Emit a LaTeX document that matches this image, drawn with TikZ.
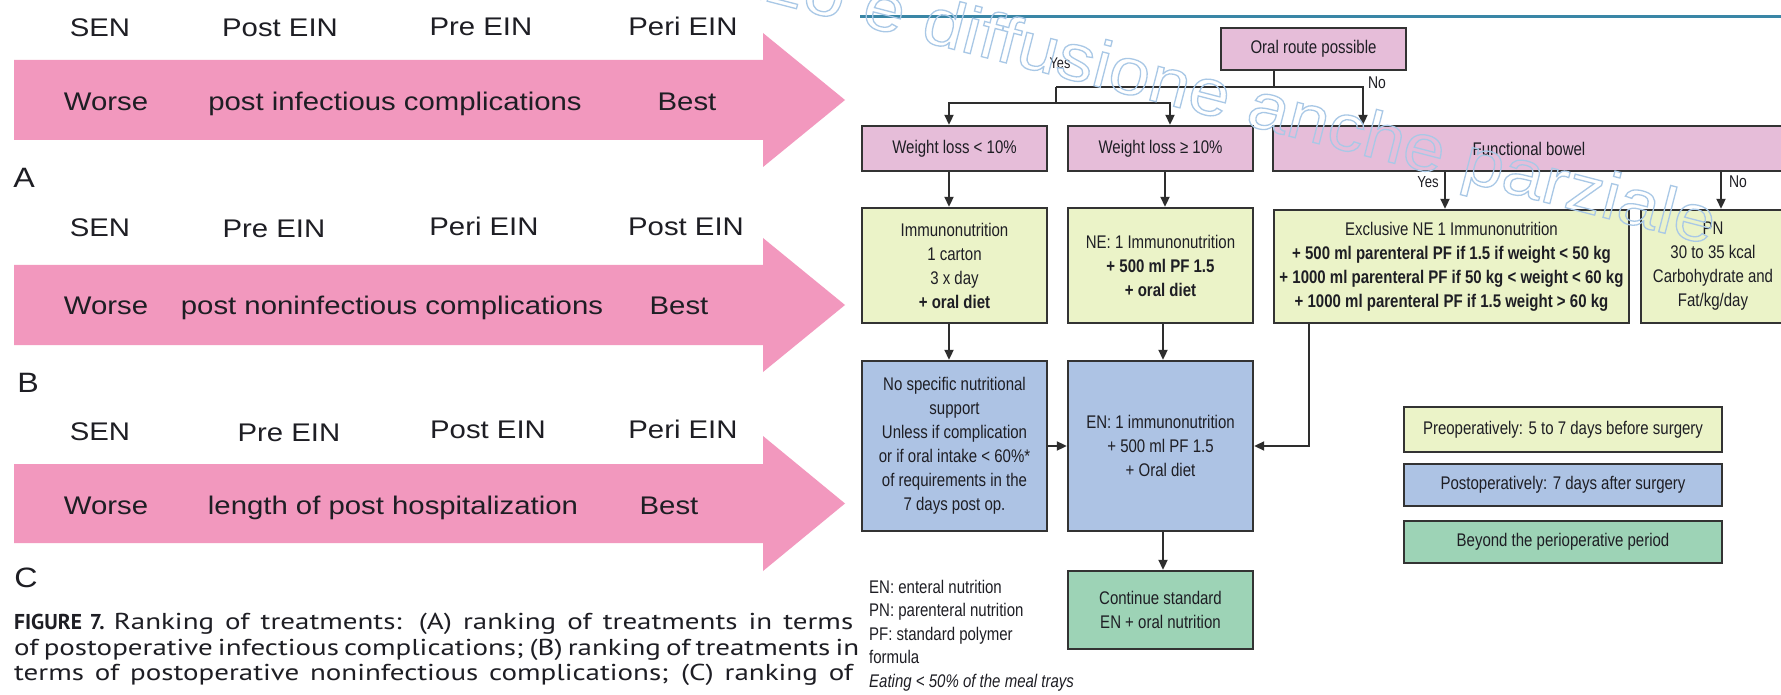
\documentclass[tikz,border=0pt]{standalone}
\usepackage{fontspec}
\setmainfont{Liberation Sans}
\newfontfamily\fc[FakeStretch=0.82]{Liberation Sans}
\newfontfamily\lf[FakeStretch=1.15]{Liberation Sans}
\newfontfamily\capf[FakeStretch=1.26]{PT Sans}
\newfontfamily\capfb{PT Sans}
\newfontfamily\wmf[FakeStretch=1.12]{Liberation Sans}
\usetikzlibrary{arrows.meta}
\definecolor{pinkarrow}{HTML}{F298BE}
\definecolor{pinkbox}{HTML}{E6BDD9}
\definecolor{yelbox}{HTML}{EBF3C8}
\definecolor{bluebox}{HTML}{ADC3E4}
\definecolor{greenbox}{HTML}{9DD3B6}
\definecolor{boxline}{HTML}{333333}
\definecolor{linec}{HTML}{2E2E2E}
\definecolor{txt}{HTML}{1E1E24}
\definecolor{rule}{HTML}{3A86A6}
\definecolor{wmblue}{HTML}{A9C8E6}
\newcommand{\flowfont}{\fc\fontsize{18.3pt}{24pt}\selectfont}
\newcommand{\leftfont}{\lf\fontsize{25.5pt}{30pt}\selectfont}
\newcommand{\capfont}{\capf\fontsize{23pt}{25.5pt}\selectfont}
\begin{document}
\begin{tikzpicture}[x=1pt,y=-1pt,
  ln/.style={draw=linec, line width=2pt},
  arr/.style={ln, -{Triangle[width=9pt,length=10pt]}},
  box/.style={draw=boxline, line width=2.4pt, align=center, inner sep=0pt, text=txt, font=\flowfont},
  pinkb/.style={box, fill=pinkbox},
  yelb/.style={box, fill=yelbox},
  blueb/.style={box, fill=bluebox},
  greenb/.style={box, fill=greenbox},
  lt/.style={anchor=base, inner sep=0pt, text=txt, font=\leftfont},
  letter/.style={anchor=base, inner sep=0pt, text=txt, font=\lf\fontsize{28pt}{32pt}\selectfont},
  lbl/.style={inner sep=0pt, text=txt, font=\fc\fontsize{17pt}{20pt}\selectfont},
  legt/.style={anchor=base west, inner sep=0pt, text=txt, font=\flowfont},
  capl/.style={anchor=base west, inner sep=0pt, text=txt, font=\capfont},
  band/.style={fill=pinkarrow},
]
\useasboundingbox (0,0) rectangle (1781,695);
\clip (0,0) rectangle (1781,695);
\fill[white] (0,0) rectangle (1781,695);

% ---------- left: ranking arrows ----------
\fill[band] (14,60) -- (763,60) -- (763,33) -- (845,100) -- (763,167) -- (763,140) -- (14,140) -- cycle;
\fill[band] (14,265) -- (763,265) -- (763,238) -- (845,305) -- (763,372) -- (763,345) -- (14,345) -- cycle;
\fill[band] (14,464) -- (763,464) -- (763,436) -- (845,503.5) -- (763,571) -- (763,543) -- (14,543) -- cycle;

\node[lt] (a1) at (100,37) {SEN};
\node[lt] (a2) at (280,37) {Post EIN};
\node[lt] (a3) at (481,36) {Pre EIN};
\node[lt] (a4) at (683,36) {Peri EIN};
\node[lt] (aw) at (106,111) {Worse};
\node[lt] (am) at (395,111) {post infectious complications};
\node[lt] (ab) at (687,111) {Best};
\node[letter] (la) at (24,188) {A};

\node[lt] (b1) at (100,237) {SEN};
\node[lt] (b2) at (274,238) {Pre EIN};
\node[lt] (b3) at (484,236) {Peri EIN};
\node[lt] (b4) at (686,236) {Post EIN};
\node[lt] (bw) at (106,314) {Worse};
\node[lt] (bm) at (392,314) {post noninfectious complications};
\node[lt] (bb) at (679,314) {Best};
\node[letter] (lb) at (28,392) {B};

\node[lt] (c1) at (100,440) {SEN};
\node[lt] (c2) at (289,441) {Pre EIN};
\node[lt] (c3) at (488,438) {Post EIN};
\node[lt] (c4) at (683,438) {Peri EIN};
\node[lt] (cw) at (106,514) {Worse};
\node[lt] (cm) at (393,514) {length of post hospitalization};
\node[lt] (cb) at (669,514) {Best};
\node[letter] (lc) at (26,587) {C};

\node[capl] (cap1) at (14,629) {\makebox[839pt][s]{{\capfb\fontsize{21.5pt}{25pt}\selectfont\bfseries FIGURE 7.}\hspace{0.4em}Ranking of treatments: (A) ranking of treatments in terms}};
\node[capl] (cap2) at (14,655) {\makebox[839pt][s]{of postoperative infectious complications; (B) ranking of treatments in}};
\node[capl] (cap3) at (14,680.5) {\makebox[839pt][s]{terms of postoperative noninfectious complications; (C) ranking of}};

% ---------- right: flowchart ----------
\draw[rule, line width=3pt] (860,17) -- (1781,17);

\node[pinkb, minimum width=185pt, minimum height=42pt] (oral) at (1313.5,49) {Oral route possible};
\node[pinkb, minimum width=185pt, minimum height=45pt] (wl1) at (954.5,148.5) {Weight loss < 10\%};
\node[pinkb, minimum width=185pt, minimum height=45pt] (wl2) at (1160.5,148.5) {Weight loss ≥ 10\%};
\node[pinkb, minimum width=512pt, minimum height=45pt] (fb) at (1529,148.5) {Functional bowel};

\node[yelb, minimum width=185pt, minimum height=115pt] (imm) at (954.5,265.5) {Immunonutrition\\1 carton\\3 x day\\\textbf{+ oral diet}};
\node[yelb, minimum width=185pt, minimum height=115pt] (ne) at (1160.5,265.5) {NE: 1 Immunonutrition\\\textbf{+ 500 ml PF 1.5}\\\textbf{+ oral diet}};
\node[yelb, minimum width=355pt, minimum height=113pt] (excl) at (1451.5,266.5) {Exclusive NE 1 Immunonutrition\\\textbf{+ 500 ml parenteral PF if 1.5 if weight < 50 kg}\\\textbf{+ 1000 ml parenteral PF if 50 kg < weight < 60 kg}\\\textbf{+ 1000 ml parenteral PF if 1.5 weight > 60 kg}};
\node[yelb, minimum width=144pt, minimum height=113pt] (pn) at (1713,266.5) {PN\\30 to 35 kcal\\Carbohydrate and\\Fat/kg/day};

\node[blueb, minimum width=185pt, minimum height=170pt] (nospec) at (954.5,446) {No specific nutritional\\support\\Unless if complication\\or if oral intake < 60\%*\\of requirements in the\\7 days post op.};
\node[blueb, minimum width=185pt, minimum height=170pt] (en) at (1160.5,446) {EN: 1 immunonutrition\\+ 500 ml PF 1.5\\+ Oral diet};
\node[greenb, minimum width=185pt, minimum height=78pt] (cont) at (1160.5,610) {Continue standard\\EN + oral nutrition};

\node[yelb, minimum width=318pt, minimum height=45pt] (kpre) at (1563,429.5) {Preoperatively: 5 to 7 days before surgery};
\node[blueb, minimum width=318pt, minimum height=42pt] (kpost) at (1563,485) {Postoperatively: 7 days after surgery};
\node[greenb, minimum width=318pt, minimum height=42pt] (kbey) at (1563,542) {Beyond the perioperative period};

\node[legt] (g1) at (869,593.5) {EN: enteral nutrition};
\node[legt] (g2) at (869,616.5) {PN: parenteral nutrition};
\node[legt] (g3) at (869,640.5) {PF: standard polymer};
\node[legt] (g4) at (869,663.5) {formula};
\node[legt] (g5) at (869,687.5) {\itshape Eating < 50\% of the meal trays};

% junction coordinates
\coordinate (j1) at (1274,87);
\coordinate (jl) at (1056,87);
\coordinate (jr) at (1363,87);
\coordinate (k) at (1056,103);
\coordinate (kl) at (949,103);
\coordinate (kr) at (1170,103);
\coordinate (xy) at (1445,0);
\coordinate (xn) at (1721,0);
\coordinate (xe) at (1309,0);
\coordinate (xl) at (949,0);
\coordinate (xm) at (1165,0);
\coordinate (xc) at (1163,0);

\draw[ln] (oral.south -| j1) -- (j1);
\draw[ln] (jl) -- (k);
\draw[arr] (jl) -- (jr) -- (jr |- fb.north);
\draw[arr] (k) -- (kl) -- (kl |- wl1.north);
\draw[arr] (k) -- (kr) -- (kr |- wl2.north);

\draw[arr] (wl1.south -| xl) -- (imm.north -| xl);
\draw[arr] (wl2.south -| xm) -- (ne.north -| xm);
\draw[arr] (fb.south -| xy) -- (excl.north -| xy);
\draw[arr] (fb.south -| xn) -- (pn.north -| xn);

\draw[arr] (imm.south -| xl) -- (nospec.north -| xl);
\draw[arr] (ne.south -| xc) -- (en.north -| xc);
\draw[arr] (nospec.east) -- (en.west);
\draw[arr] (excl.south -| xe) |- (en.east);
\draw[arr] (en.south -| xc) -- (cont.north -| xc);

\node[lbl, font=\fc\fontsize{15.5pt}{18pt}\selectfont] (yes1) at (1060,63) {Yes};
\node[lbl] (no1) at (1377,83) {No};
\node[lbl, font=\fc\fontsize{16pt}{18pt}\selectfont] (yes2) at (1428,182) {Yes};
\node[lbl] (no2) at (1738,182) {No};

% ---------- watermark ----------
\node[anchor=base east, rotate=-14.5, inner sep=0pt, text=wmblue, font=\wmf\fontsize{66pt}{70pt}\selectfont] (wm) at (1710,245)
  {\special{pdf:literal direct 1 Tr 1.3 w}utilizzo e diffusione anche parziale\special{pdf:literal direct 0 Tr}};
\end{tikzpicture}
\end{document}
